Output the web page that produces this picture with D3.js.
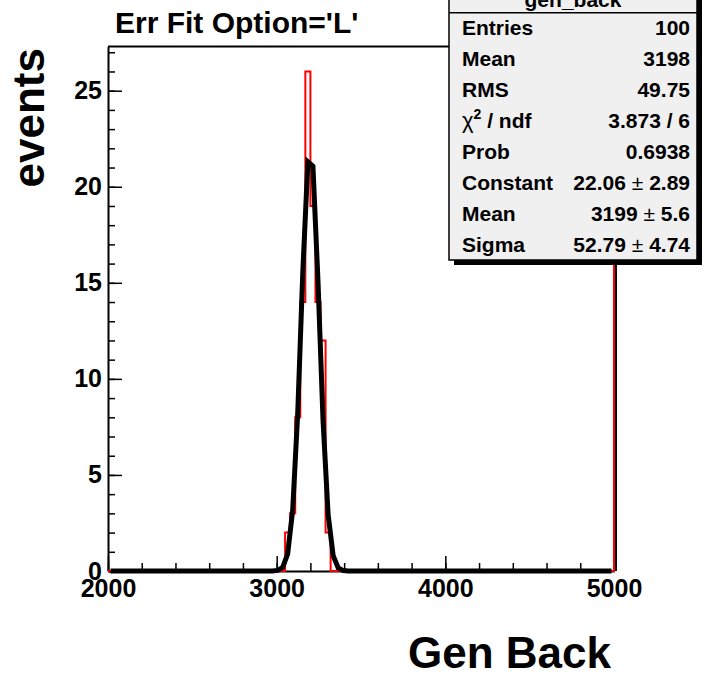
<!DOCTYPE html>
<html>
<head>
<meta charset="utf-8">
<script src="https://d3js.org/d3.v7.min.js"></script>
<style>
  body { margin: 0; background: #fff; }
  text { font-family: "Liberation Sans", Arial, sans-serif; font-weight: bold; fill: #000; }
</style>
</head>
<body>
<script>
// histogram gen_back : bins of 30 between 2000 and 5000, only non-empty bins listed
var binLow = [3050, 3080, 3110, 3140, 3170, 3200, 3230, 3260, 3290];
var binCount = [2, 3, 8, 14, 26, 19, 14, 12, 2];
var binWidth = 30;

// gaussian fit as drawn
var fitX = [2015, 2975, 3005, 3035, 3065, 3095, 3125, 3155, 3185, 3215, 3245, 3275, 3305, 3335, 3365, 3395, 3425, 4985];
var fitY = [0, 0, 0.03, 0.18, 0.88, 3.17, 8.25, 15.59, 21.30, 21.07, 15.09, 7.83, 2.94, 0.80, 0.16, 0.02, 0, 0];

var xTicks = [2000, 3000, 4000, 5000];
var yTicks = [0, 5, 10, 15, 20, 25];

var statLabels = ["Entries", "Mean", "RMS", "chi2", "Prob", "Constant", "Mean", "Sigma"];
var statValues = ["100", "3198", "49.75", "3.873 / 6", "0.6938", "22.06", "3199", "52.79"];
var statErrors = ["", "", "", "", "", "2.89", "5.6", "4.74"];

var width = 709, height = 675;
var fLeft = 108, fRight = 614, fTop = 46.5, fBottom = 571;

var svg = d3.select("body").append("svg")
    .attr("width", width)
    .attr("height", height);

svg.append("rect").attr("width", width).attr("height", height).attr("fill", "#fff");

var x = d3.scaleLinear().domain([2000, 5000]).range([fLeft, fRight]);
var y = d3.scaleLinear().domain([0, 27.3]).range([fBottom, fTop]);

// minor ticks
svg.append("g")
    .attr("transform", "translate(" + fLeft + ",0)")
    .call(d3.axisLeft(y).tickValues(d3.range(0, 28, 1)).tickSizeInner(-7).tickSizeOuter(0).tickFormat(""))
    .call(function(g) { g.select(".domain").remove(); })
    .selectAll("line").attr("stroke", "#000").attr("stroke-width", 1.5);

svg.append("g")
    .attr("transform", "translate(0," + fBottom + ")")
    .call(d3.axisBottom(x).tickValues(d3.range(2000, 5001, 200)).tickSizeInner(-8).tickSizeOuter(0).tickFormat(""))
    .call(function(g) { g.select(".domain").remove(); })
    .selectAll("line").attr("stroke", "#000").attr("stroke-width", 1.5);

// main axes
var yAxis = svg.append("g")
    .attr("transform", "translate(" + fLeft + ",0)")
    .call(d3.axisLeft(y).tickValues(yTicks).tickSizeInner(-14).tickSizeOuter(0).tickPadding(6).tickFormat(d3.format("d")));
yAxis.select(".domain").attr("stroke", "#000").attr("stroke-width", 2);
yAxis.selectAll("line").attr("stroke", "#000").attr("stroke-width", 1.5);
yAxis.selectAll("text").attr("font-size", 25).attr("font-family", null);

var xAxis = svg.append("g")
    .attr("transform", "translate(0," + fBottom + ")")
    .call(d3.axisBottom(x).tickValues(xTicks).tickSizeInner(-15).tickSizeOuter(0).tickPadding(8).tickFormat(d3.format("d")));
xAxis.select(".domain").attr("stroke", "#000").attr("stroke-width", 2);
xAxis.selectAll("line").attr("stroke", "#000").attr("stroke-width", 1.5);
xAxis.selectAll("text").attr("font-size", 25).attr("font-family", null);

// frame top and right
svg.append("line").attr("x1", fLeft).attr("x2", fRight + 2).attr("y1", fTop).attr("y2", fTop)
    .attr("stroke", "#000").attr("stroke-width", 2);
svg.append("line").attr("x1", fRight + 2).attr("x2", fRight + 2).attr("y1", fTop).attr("y2", fBottom)
    .attr("stroke", "#000").attr("stroke-width", 2);

// histogram outline (step envelope)
var pts = [[2000, 0]];
var prev = 0;
binLow.forEach(function(b, i) {
    pts.push([b, prev], [b, binCount[i]], [b + binWidth, binCount[i]]);
    prev = binCount[i];
});
pts.push([binLow[binLow.length - 1] + binWidth, 0], [5000, 0], [5000, 27.3]);
svg.append("path")
    .datum(pts)
    .attr("fill", "none")
    .attr("stroke", "#ff0000")
    .attr("stroke-width", 2)
    .attr("d", d3.line().x(function(d) { return x(d[0]); }).y(function(d) { return y(d[1]); }));

// fit function
var fit = fitX.map(function(v, i) { return [v, fitY[i]]; });
svg.append("path")
    .datum(fit)
    .attr("fill", "none")
    .attr("stroke", "#000")
    .attr("stroke-width", 5)
    .attr("d", d3.line().x(function(d) { return x(d[0]); }).y(function(d) { return y(d[1]); }));

// titles
svg.append("text").attr("x", 115).attr("y", 33).attr("font-size", 30).text("Err Fit Option='L'");
svg.append("text").attr("x", 611).attr("y", 668).attr("font-size", 44).attr("text-anchor", "end").text("Gen Back");
svg.append("text")
    .attr("transform", "translate(44,48) rotate(-90)")
    .attr("font-size", 44).attr("text-anchor", "end").text("events");

// stats box
var bx0 = 449, bx1 = 697, by0 = -20, by1 = 260, sep = 12.7;
svg.append("rect").attr("x", bx0 + 5).attr("y", by1).attr("width", bx1 - bx0).attr("height", 5).attr("fill", "#000");
svg.append("rect").attr("x", bx1).attr("y", by0 + 5).attr("width", 5).attr("height", by1 - by0).attr("fill", "#000");
svg.append("rect").attr("x", bx0).attr("y", by0).attr("width", bx1 - bx0).attr("height", by1 - by0)
    .attr("fill", "#f0f0f0").attr("stroke", "#000").attr("stroke-width", 1.5);
svg.append("line").attr("x1", bx0).attr("x2", bx1).attr("y1", sep).attr("y2", sep)
    .attr("stroke", "#000").attr("stroke-width", 1.5);
svg.append("text").attr("x", (bx0 + bx1) / 2).attr("y", 7).attr("font-size", 21)
    .attr("text-anchor", "middle").text("gen_back");

var rowH = (by1 - sep) / statLabels.length;
statLabels.forEach(function(lab, i) {
    var base = sep + rowH * (i + 0.5) + 7;
    var t = svg.append("text").attr("x", 462).attr("y", base).attr("font-size", 21);
    if (lab === "chi2") {
        t.append("tspan").attr("font-weight", "normal").attr("font-size", 22).text("χ");
        t.append("tspan").attr("font-size", 14).attr("dy", -9).text("2");
        t.append("tspan").attr("dy", 9).text(" / ndf");
    } else {
        t.text(lab);
    }
    var v = svg.append("text").attr("x", 690).attr("y", base).attr("font-size", 21).attr("text-anchor", "end");
    v.append("tspan").text(statValues[i]);
    if (statErrors[i]) {
        v.append("tspan").attr("font-weight", "normal").text(" ± ");
        v.append("tspan").text(statErrors[i]);
    }
});
</script>
</body>
</html>
